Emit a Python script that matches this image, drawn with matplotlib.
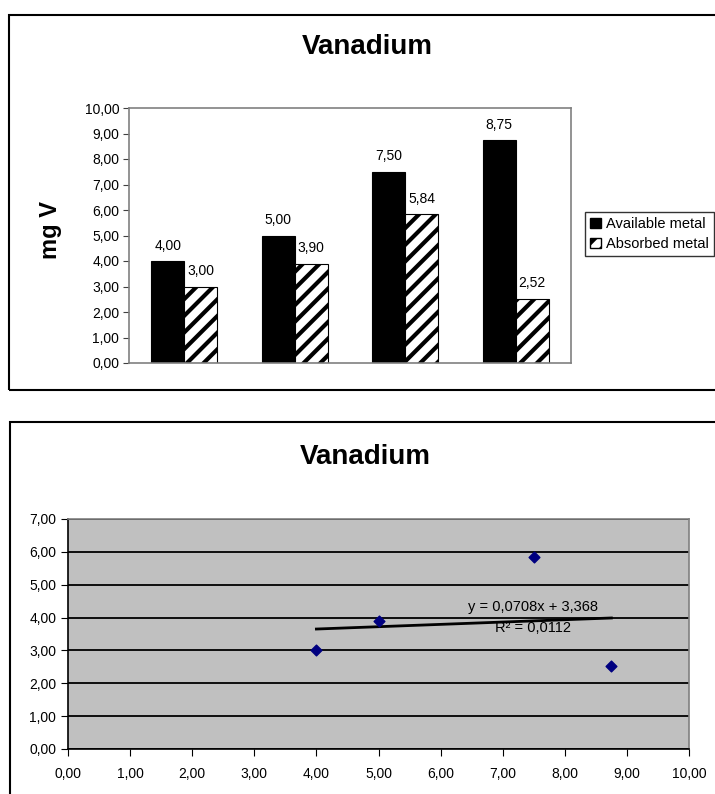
import numpy as np
import matplotlib
matplotlib.use('Agg')
import matplotlib.pyplot as plt
from matplotlib.patches import Patch, Rectangle
from matplotlib.ticker import FuncFormatter, MultipleLocator

plt.rcParams['font.family'] = ['Liberation Sans', 'DejaVu Sans']
plt.rcParams['hatch.linewidth'] = 3.0

# data
samples = ['1', '2', '3', '4']
available = [4.00, 5.00, 7.50, 8.75]
absorbed = [3.00, 3.90, 5.84, 2.52]
series_names = ['Available metal', 'Absorbed metal']
title = 'Vanadium'

W, H = 715, 794
fig = plt.figure(figsize=(W / 100, H / 100), dpi=100)


def comma(v, pos=None):
    return f'{v:.2f}'.replace('.', ',')


def px_axes(left, top, right, bottom):
    return fig.add_axes([left / W, 1 - bottom / H, (right - left) / W, (bottom - top) / H])


# outer chart boxes (right side runs off the page like the original)
fig.patches.append(Rectangle((9 / W, 1 - 390 / H), 1.0, 375 / H, transform=fig.transFigure,
                             fill=False, edgecolor='black', linewidth=1.5))
fig.patches.append(Rectangle((10 / W, -0.1), 1.0, 0.1 + (794 - 422) / H, transform=fig.transFigure,
                             fill=False, edgecolor='black', linewidth=1.5))

# ---- bar chart ----
ax1 = px_axes(129, 108, 571, 363)
x = np.arange(len(samples))
bw = 0.3
b1 = ax1.bar(x - bw / 2, available, bw, color='black', edgecolor='black', linewidth=0.8)
b2 = ax1.bar(x + bw / 2, absorbed, bw, color='white', edgecolor='black', hatch='//', linewidth=0.8)
for bars, vals in ((b1, available), (b2, absorbed)):
    for r, v in zip(bars, vals):
        ax1.annotate(comma(v), (r.get_x() + r.get_width() / 2, v), xytext=(0, 6),
                     textcoords='offset points', ha='center', va='bottom', fontsize=10)
ax1.set_xlim(-0.5, len(samples) - 0.5)
ax1.set_ylim(0, 10)
ax1.yaxis.set_major_locator(MultipleLocator(1))
ax1.yaxis.set_major_formatter(FuncFormatter(comma))
ax1.set_xticks([])
ax1.tick_params(axis='y', direction='out', length=4, color='#404040', labelsize=10, pad=3)
for s in ax1.spines.values():
    s.set_color('#808080')
    s.set_linewidth(1.2)

fig.text(367 / W, 1 - 47 / H, title, ha='center', va='center', fontsize=20, fontweight='bold')
fig.text(51 / W, 1 - 230 / H, 'mg V', ha='center', va='center', rotation=90,
         fontsize=17, fontweight='bold')

handles = [Patch(facecolor='black', edgecolor='black'),
           Patch(facecolor='white', edgecolor='black', hatch='//')]
fig.legend(handles, series_names, loc='upper left', bbox_to_anchor=(585 / W, 1 - 212 / H),
           frameon=True, fancybox=False, edgecolor='black', fontsize=10.5,
           handlelength=0.75, handleheight=0.75, handletextpad=0.35, borderpad=0.35,
           labelspacing=0.4, borderaxespad=0)

# ---- scatter with trendline ----
ax2 = px_axes(68, 519, 689, 749)
ax2.set_facecolor('#C0C0C0')
ax2.set_xlim(0, 10)
ax2.set_ylim(0, 7)
ax2.xaxis.set_major_locator(MultipleLocator(1))
ax2.yaxis.set_major_locator(MultipleLocator(1))
ax2.xaxis.set_major_formatter(FuncFormatter(comma))
ax2.yaxis.set_major_formatter(FuncFormatter(comma))
ax2.grid(axis='y', color='black', linewidth=1.3)
ax2.set_axisbelow(True)
ax2.scatter(available, absorbed, marker='D', s=30, color='#000080', zorder=3)

slope, intercept = np.polyfit(available, absorbed, 1)
xt = np.array([min(available), max(available)])
ax2.plot(xt, slope * xt + intercept, color='black', linewidth=2, zorder=2)
r2 = np.corrcoef(available, absorbed)[0, 1] ** 2
ax2.text(7.49, 4.32, 'y = ' + f'{slope:.4f}'.replace('.', ',') + 'x + ' + f'{intercept:.3f}'.replace('.', ','),
         ha='center', va='center', fontsize=10.5)
ax2.text(7.49, 3.68, 'R² = ' + f'{r2:.4f}'.replace('.', ','), ha='center', va='center', fontsize=10.5)

ax2.tick_params(direction='out', length=5, color='black', labelsize=10)
ax2.tick_params(axis='x', pad=8)
for side in ('top', 'right'):
    ax2.spines[side].set_color('#808080')
    ax2.spines[side].set_linewidth(1.2)
for side in ('left', 'bottom'):
    ax2.spines[side].set_color('black')
    ax2.spines[side].set_linewidth(1.2)

fig.text(365 / W, 1 - 457 / H, title, ha='center', va='center', fontsize=20, fontweight='bold')

fig.savefig('out.png', dpi=100)
